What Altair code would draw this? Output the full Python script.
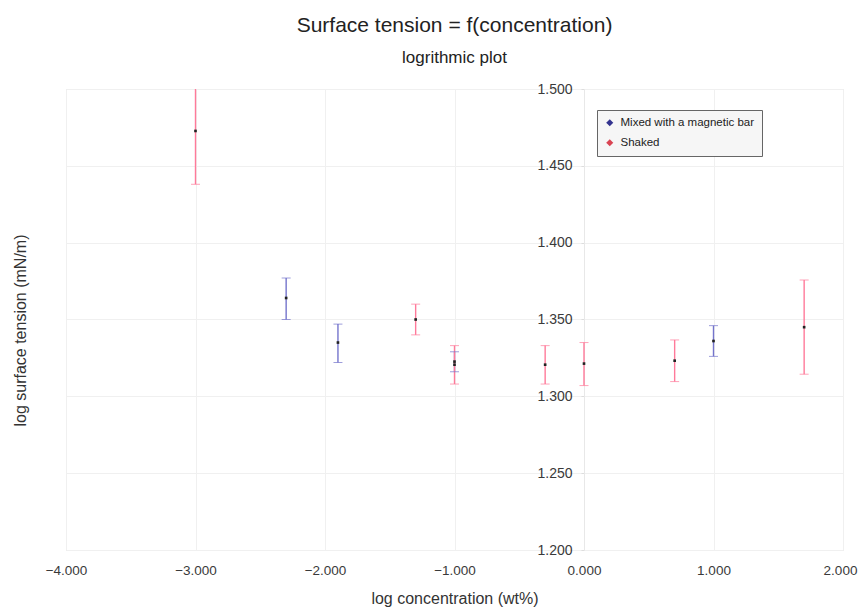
import altair as alt
import pandas as pd

series_names = ["Mixed with a magnetic bar", "Shaked"]

mixed_x = [-2.30, -1.90, -1.00, 1.00]
mixed_y = [1.364, 1.335, 1.3226, 1.336]
mixed_lo = [1.350, 1.322, 1.316, 1.326]
mixed_hi = [1.377, 1.347, 1.329, 1.346]

shaked_x = [-3.00, -1.30, -1.00, -0.30, 0.00, 0.70, 1.70]
shaked_y = [1.4727, 1.350, 1.3206, 1.3206, 1.3213, 1.3232, 1.345]
shaked_lo = [1.438, 1.340, 1.308, 1.308, 1.307, 1.3096, 1.3144]
shaked_hi = [1.507, 1.360, 1.333, 1.333, 1.335, 1.3367, 1.3757]

x_ticks = [-4, -3, -2, -1, 0, 1, 2]
y_ticks = [1.20, 1.25, 1.30, 1.35, 1.40, 1.45, 1.50]

rows = []
for x, y, lo, hi in zip(mixed_x, mixed_y, mixed_lo, mixed_hi):
    rows.append({"x": x, "y": y, "lo": lo, "hi": hi, "series": series_names[0]})
for x, y, lo, hi in zip(shaked_x, shaked_y, shaked_lo, shaked_hi):
    rows.append({"x": x, "y": y, "lo": lo, "hi": hi, "series": series_names[1]})
df = pd.DataFrame(rows)

FONT = "Liberation Sans"

xscale = alt.Scale(domain=[-4, 2], nice=False, zero=False)
yscale = alt.Scale(domain=[1.2, 1.5], nice=False, zero=False)

bar_colors = alt.Scale(domain=series_names, range=["#7474cc", "#ff7a9a"])

base = alt.Chart(df)

xenc = alt.X("x:Q", scale=xscale,
             axis=alt.Axis(title="log concentration (wt%)", values=x_ticks, format=".3f",
                           labelFlush=False, grid=True, gridColor="#f0f0f0", zindex=0,
                           domain=False, ticks=False, labelPadding=13,
                           labelOffset={"condition": {"test": "datum.value == 2", "value": -3}, "value": 0},
                           labelFont=FONT, labelFontSize=13.5, labelColor="#3a3a3a",
                           titleFont=FONT, titleFontSize=16, titleFontWeight="normal",
                           titleColor="#333333", titlePadding=14))

yaxis = alt.Axis(title="log surface tension (mN/m)", values=y_ticks, format=".3f",
                 grid=True, gridColor="#f0f0f0", offset=-518, zindex=0,
                 domain=True, domainColor="#e8e8e8", ticks=True, tickColor="#dddddd",
                 tickSize=3, labelPadding=9,
                 labelFont=FONT, labelFontSize=14, labelColor="#3a3a3a",
                 titleFont=FONT, titleFontSize=16, titleFontWeight="normal",
                 titleColor="#333333", titleX=-556, titleY=241)

rules = base.mark_rule(strokeWidth=1.4, clip=True).encode(
    x=xenc,
    y=alt.Y("lo:Q", scale=yscale, axis=yaxis),
    y2="hi:Q",
    color=alt.Color("series:N", scale=bar_colors, legend=None),
)

caps_lo = base.mark_tick(orient="horizontal", size=9, thickness=1, clip=True).encode(
    x="x:Q", y="lo:Q",
    color=alt.Color("series:N", scale=bar_colors, legend=None),
)
caps_hi = base.mark_tick(orient="horizontal", size=9, thickness=1, clip=True).encode(
    x="x:Q", y="hi:Q",
    color=alt.Color("series:N", scale=bar_colors, legend=None),
)

legend_layer = base.mark_point(filled=True, shape="diamond", size=1, opacity=1, clip=True).encode(
    x="x:Q", y="y:Q",
    fill=alt.Fill("series:N",
                  scale=alt.Scale(range=["#33338f", "#d94452"]),
                  legend=alt.Legend(title=None, orient="none", legendX=531, legendY=21,
                                    symbolType="diamond", symbolSize=50,
                                    symbolStrokeWidth=0, symbolOpacity=1,
                                    labelFont=FONT, labelFontSize=11.5, labelColor="#222222",
                                    fillColor="#f6f6f6", strokeColor="#666666",
                                    padding=7, rowPadding=7, labelOffset=5)),
)

points = base.mark_point(filled=True, shape="square", size=7, color="#222222", opacity=1, clip=True).encode(
    x="x:Q", y="y:Q",
)

chart = alt.layer(rules, caps_lo, caps_hi, legend_layer, points).properties(
    width=777, height=461,
    title=alt.TitleParams(text="Surface tension = f(concentration)",
                          subtitle="logrithmic plot",
                          font=FONT, fontSize=21, fontWeight="normal", color="#222222",
                          subtitleFont=FONT, subtitleFontSize=17, subtitleColor="#222222",
                          subtitlePadding=14, offset=16, anchor="middle"),
    autosize=alt.AutoSizeParams(type="none"),
    padding={"left": 66, "top": 89, "right": 16, "bottom": 60},
).configure_view(stroke=None).configure(background="white")

chart.save("out.html", embed_options={"renderer": "svg", "actions": False})
